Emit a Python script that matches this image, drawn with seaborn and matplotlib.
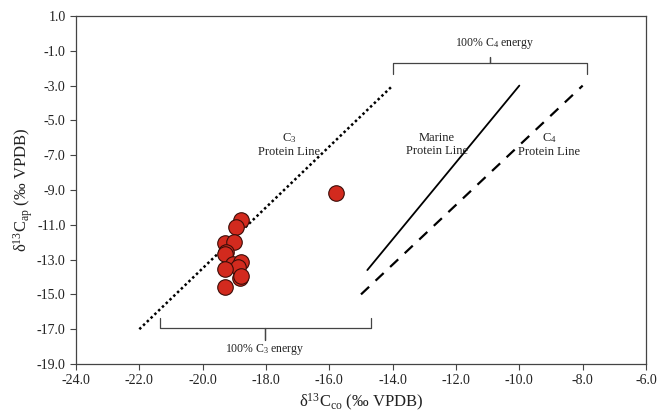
import matplotlib
matplotlib.use("Agg")
import matplotlib.pyplot as plt
import seaborn as sns
import pandas as pd
from matplotlib.ticker import FormatStrFormatter

# collagen vs apatite carbon values
d13c_co = [-15.8, -18.8, -18.95, -19.3, -19.0, -19.25, -19.3, -19.05, -18.8,
           -18.9, -19.3, -18.82, -18.8, -19.3]
d13c_ap = [-9.2, -10.7, -11.1, -12.05, -12.0, -12.55, -12.65, -13.25, -13.15,
           -13.4, -13.55, -14.05, -13.95, -14.55]

# protein reference lines (x pair, y pair)
c3_line_x = [-22.0, -14.0]
c3_line_y = [-17.0, -3.0]
marine_line_x = [-14.8, -10.0]
marine_line_y = [-13.6, -3.0]
c4_line_x = [-15.0, -8.0]
c4_line_y = [-15.0, -3.0]

# energy brackets: (left x, right x, y)
c3_bracket = (-21.35, -14.7, -16.95)
c4_bracket = (-14.0, -7.85, -1.68)

x_ticks = [-24.0, -22.0, -20.0, -18.0, -16.0, -14.0, -12.0, -10.0, -8.0, -6.0]
y_ticks = [1.0, -1.0, -3.0, -5.0, -7.0, -9.0, -11.0, -13.0, -15.0, -17.0, -19.0]

sns.set_style("ticks")
plt.rcParams['font.family'] = ['Liberation Serif', 'DejaVu Serif']
plt.rcParams['mathtext.fontset'] = 'custom'
plt.rcParams['mathtext.rm'] = 'Liberation Serif'
plt.rcParams['mathtext.it'] = 'Liberation Serif:italic'
plt.rcParams['mathtext.default'] = 'regular'
plt.rcParams['axes.unicode_minus'] = False

fig = plt.figure(figsize=(6.59, 4.12), dpi=100)
ax = fig.add_axes([76 / 659, 48 / 412, 570 / 659, 348 / 412])

ink = '#222222'

ax.plot(c3_line_x, c3_line_y, color='black', linestyle=(0, (1, 1.1)), linewidth=1.8)
ax.plot(marine_line_x, marine_line_y, color='black', linestyle='-', linewidth=1.3)
ax.plot(c4_line_x, c4_line_y, color='black', linestyle=(0, (5, 4)), linewidth=1.6)

df = pd.DataFrame({'co': d13c_co, 'ap': d13c_ap})
sns.scatterplot(data=df, x='co', y='ap', ax=ax, s=125, color='#d22a1e',
                edgecolor='#3a0d08', linewidth=0.8, zorder=3)


def bracket(x0, x1, y, tip, mid):
    xm = (x0 + x1) / 2
    xs = [x0, x0, xm, xm, xm, x1, x1]
    ys = [y + tip, y, y, y + mid, y, y, y + tip]
    ax.plot(xs, ys, color='#444444', linewidth=0.9, solid_joinstyle='round')


bracket(*c3_bracket, tip=0.6, mid=-0.65)
bracket(*c4_bracket, tip=-0.65, mid=0.35)

ax.text((c3_bracket[0] + c3_bracket[1]) / 2, -18.15, '100% C$_3$ energy',
        ha='center', va='center', fontsize=8.5, color=ink)
ax.text((c4_bracket[0] + c4_bracket[1]) / 2 + 0.15, -0.6, '100% C$_4$ energy',
        ha='center', va='center', fontsize=8.5, color=ink)

ax.text(-17.27, -6.4, 'C$_3$\nProtein Line', ha='center', va='center',
        fontsize=9, color=ink, linespacing=1.1)
ax.text(-12.6, -6.4, 'Marine\nProtein Line', ha='center', va='center',
        fontsize=9, color=ink, linespacing=1.1)
ax.text(-9.05, -6.4, 'C$_4$\nProtein Line', ha='center', va='center',
        fontsize=9, color=ink, linespacing=1.1)

ax.set_xlim(x_ticks[0], x_ticks[-1])
ax.set_ylim(y_ticks[-1], y_ticks[0])
ax.set_xticks(x_ticks)
ax.set_yticks(y_ticks)
ax.xaxis.set_major_formatter(FormatStrFormatter('%.1f'))
ax.yaxis.set_major_formatter(FormatStrFormatter('%.1f'))
ax.tick_params(direction='out', length=4, width=0.8, colors='#444444',
               labelcolor=ink, labelsize=10)

for side in ['left', 'right', 'top', 'bottom']:
    ax.spines[side].set_visible(True)
    ax.spines[side].set_color('#444444')
    ax.spines[side].set_linewidth(0.9)

ax.set_xlabel('δ$^{13}$C$_{co}$ (‰ VPDB)', fontsize=12, color=ink, labelpad=3)
ax.set_ylabel('δ$^{13}$C$_{ap}$ (‰ VPDB)', fontsize=12, color=ink, labelpad=1)

fig.savefig('out.png', dpi=100)
